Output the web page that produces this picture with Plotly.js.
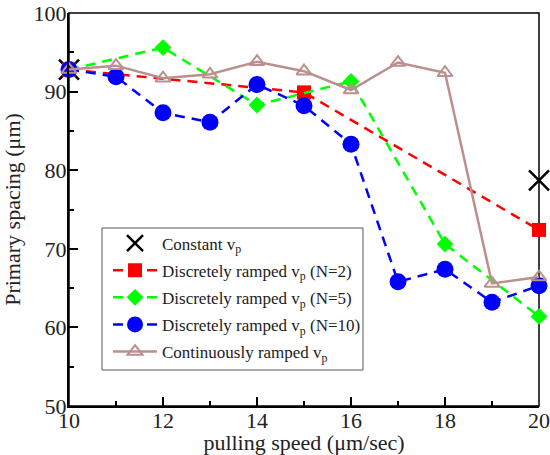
<!DOCTYPE html>
<html>
<head>
<meta charset="utf-8">
<script src="https://cdn.plot.ly/plotly-3.0.1.min.js"></script>
<style>html,body{margin:0;padding:0;background:#fff;}#chart{width:550px;height:455px;}</style>
</head>
<body>
<div id="chart"></div>
<script>
// Data
var constX = [10, 20];
var constY = [92.8, 78.7];

var n2X = [10, 15, 20];
var n2Y = [92.8, 89.9, 72.4];

var n5X = [10, 12, 14, 16, 18, 20];
var n5Y = [92.8, 95.6, 88.3, 91.3, 70.6, 61.4];

var n10X = [10, 11, 12, 13, 14, 15, 16, 17, 18, 19, 20];
var n10Y = [92.8, 91.9, 87.3, 86.1, 90.9, 88.2, 83.3, 65.8, 67.4, 63.2, 65.3];

var contX = [10, 11, 12, 13, 14, 15, 16, 17, 18, 19, 20];
var contY = [92.8, 93.3, 91.7, 92.2, 93.8, 92.6, 90.2, 93.7, 92.4, 65.6, 66.4];

var names = [
  'Constant v<sub>p</sub>',
  'Discretely ramped v<sub>p</sub> (N=2)',
  'Discretely ramped v<sub>p</sub> (N=5)',
  'Discretely ramped v<sub>p</sub> (N=10)',
  'Continuously ramped v<sub>p</sub>'
];

var dashPat = '10px,7px';
var traces = [
  {x: constX, y: constY, name: names[0], legendgroup: 'g0', mode: 'markers', cliponaxis: false,
   marker: {symbol: 'x-thin-open', size: 20, color: '#000', line: {color: '#000', width: 2.5}}},
  {x: n2X, y: n2Y, name: names[1], legendgroup: 'g1', mode: 'lines+markers', cliponaxis: false,
   line: {color: '#ff0000', width: 2.5, dash: dashPat},
   marker: {symbol: 'square', size: 14, color: '#ff0000'}},
  {x: n5X, y: n5Y, name: names[2], legendgroup: 'g2', mode: 'lines+markers', cliponaxis: false,
   line: {color: '#00ff00', width: 2.5, dash: dashPat},
   marker: {symbol: 'diamond', size: 13, color: '#00ff00'}},
  {x: n10X, y: n10Y, name: names[3], legendgroup: 'g3', mode: 'lines+markers', cliponaxis: false,
   line: {color: '#0000ff', width: 2.5, dash: dashPat},
   marker: {symbol: 'circle', size: 17, color: '#0000ff'}},
  {x: contX, y: contY, name: names[4], legendgroup: 'g4', mode: 'lines+markers', cliponaxis: false,
   line: {color: '#bc8f8f', width: 2.5},
   marker: {symbol: 'triangle-up-open', size: 13, color: '#bc8f8f', line: {color: '#bc8f8f', width: 2}}}
];

var fontFam = 'Liberation Serif';
var layout = {
  width: 550, height: 455,
  margin: {l: 69, r: 11, t: 13, b: 49},
  paper_bgcolor: '#fff', plot_bgcolor: '#fff',
  font: {family: fontFam, color: '#222222', size: 19},
  showlegend: true,
  legend: {
    x: 0.083, y: 0.459, xanchor: 'left', yanchor: 'top',
    bgcolor: 'rgba(0,0,0,0)', borderwidth: 0,
    itemwidth: 44, traceorder: 'grouped', tracegroupgap: 2,
    font: {family: fontFam, size: 17, color: '#222222'}
  },
  xaxis: {
    range: [10, 20], dtick: 2, tick0: 10,
    ticks: 'inside', ticklen: 9, tickwidth: 1.5, tickcolor: '#000',
    minor: {dtick: 1, ticks: 'inside', ticklen: 5, tickwidth: 1.5, tickcolor: '#000'},
    showline: true, linecolor: '#000', linewidth: 2,
    showgrid: false, zeroline: false,
    ticklabelstandoff: -6,
    tickfont: {family: fontFam, size: 22, color: '#222222'},
    title: {text: 'pulling speed (μm/sec)', font: {family: fontFam, size: 22, color: '#222222'}, standoff: 0}
  },
  yaxis: {
    range: [50, 100], dtick: 10, tick0: 50,
    ticks: 'inside', ticklen: 9, tickwidth: 1.5, tickcolor: '#000',
    minor: {dtick: 5, ticks: 'inside', ticklen: 5, tickwidth: 1.5, tickcolor: '#000'},
    showline: true, linecolor: '#000', linewidth: 2,
    showgrid: false, zeroline: false,
    ticklabelstandoff: -4,
    tickfont: {family: fontFam, size: 22, color: '#222222'},
    title: {text: 'Primary spacing (μm)', font: {family: fontFam, size: 22, color: '#222222'}, standoff: 8}
  },
  shapes: [
    {type: 'rect', xref: 'paper', yref: 'paper', x0: 0, x1: 1, y0: 0, y1: 1,
     line: {color: '#000', width: 1.5}, layer: 'below'},
    {type: 'rect', xref: 'paper', yref: 'paper', x0: 0.0702, x1: 0.6255, y0: 0.0916, y1: 0.4529,
     line: {color: '#555555', width: 1}, fillcolor: 'rgba(0,0,0,0)', layer: 'below'}
  ]
};

Plotly.newPlot('chart', traces, layout, {displayModeBar: false});
</script>
</body>
</html>
